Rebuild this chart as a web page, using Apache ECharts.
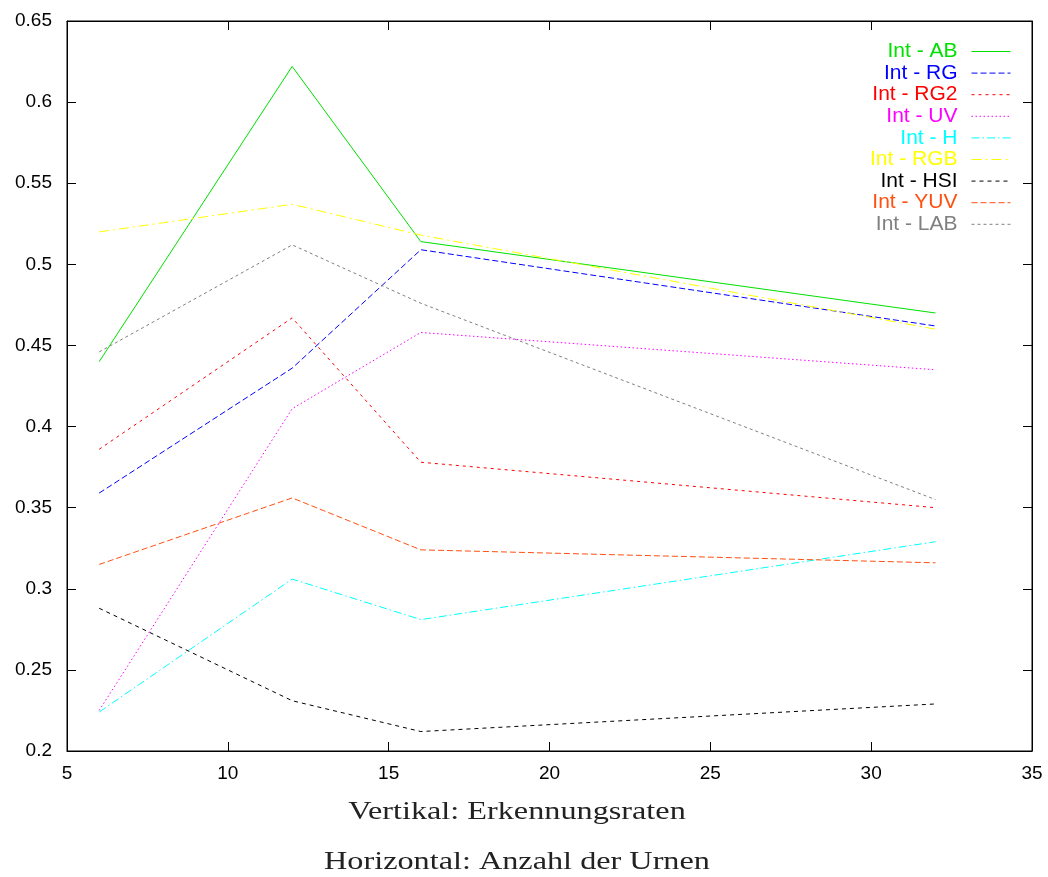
<!DOCTYPE html>
<html>
<head>
<meta charset="utf-8">
<script src="https://cdn.jsdelivr.net/npm/echarts@6/dist/echarts.min.js"></script>
<style>html,body{margin:0;padding:0;background:#fff}#c{width:1048px;height:877px}</style>
</head>
<body>
<div id="c"></div>
<script>
const xValues = [6, 12, 16, 32];
const seriesNames = ['Int - AB','Int - RG','Int - RG2','Int - UV','Int - H','Int - RGB','Int - HSI','Int - YUV','Int - LAB'];
const intAB  = [0.440, 0.622, 0.514, 0.470];
const intRG  = [0.359, 0.436, 0.509, 0.462];
const intRG2 = [0.386, 0.467, 0.378, 0.350];
const intUV  = [0.225, 0.411, 0.458, 0.435];
const intH   = [0.224, 0.306, 0.281, 0.329];
const intRGB = [0.520, 0.537, 0.518, 0.460];
const intHSI = [0.288, 0.231, 0.212, 0.229];
const intYUV = [0.315, 0.356, 0.324, 0.316];
const intLAB = [0.446, 0.512, 0.476, 0.355];
const xTitle = 'Horizontal: Anzahl der Urnen';
const yTitle = 'Vertikal: Erkennungsraten';

const allValues = [intAB, intRG, intRG2, intUV, intH, intRGB, intHSI, intYUV, intLAB];
const colors = ['#00e000','#0000ff','#ff0000','#ff00ff','#00ffff','#ffff00','#000000','#ff5010','#808080'];
const dashes = ['solid',[6,3],[3,4],[1.5,2.5],[8,3,1.5,3],[10,4,2,4],[4,4],[6,3],[3,3]];

const series = seriesNames.map((n,i)=>({
  name:n, type:'line', symbol:'none', showSymbol:false, animation:false,
  data: xValues.map((x,j)=>[x, allValues[i][j]]),
  lineStyle:{color:colors[i], width:1, type:dashes[i]},
  itemStyle:{color:colors[i]}
}));

const axisCommon = {
  type:'value', splitLine:{show:false},
  axisLine:{show:true, lineStyle:{color:'#000', width:1}},
  axisTick:{show:true, inside:true, length:9, lineStyle:{color:'#000', width:1}}
};

const titleFont = {fontFamily:'Liberation Serif', fontSize:26, fill:'#222'};

const chart = echarts.init(document.getElementById('c'), null, {renderer:'canvas'});
chart.setOption({
  animation:false,
  backgroundColor:'#fff',
  graphic:[
    {type:'text', x:517, y:812, scaleX:1.24,
     style:Object.assign({text:yTitle, align:'center', verticalAlign:'middle'}, titleFont)},
    {type:'text', x:517, y:862, scaleX:1.24,
     style:Object.assign({text:xTitle, align:'center', verticalAlign:'middle'}, titleFont)}
  ],
  grid:{left:67, right:16, top:21, bottom:126, show:true, borderColor:'#000', borderWidth:1, backgroundColor:'transparent'},
  legend:{
    orient:'vertical', right:37, top:41, align:'right', padding:0,
    itemWidth:39, itemHeight:14, itemGap:0.6,
    itemStyle:{color:'transparent', borderColor:'transparent', borderWidth:0, opacity:0},
    lineStyle:{width:1},
    data: seriesNames.map((n,i)=>({name:n, textStyle:{color:colors[i]}})),
    textStyle:{fontFamily:'Liberation Sans', fontSize:21, lineHeight:20, padding:[0,9,0,0]}
  },
  xAxis:[
    Object.assign({}, axisCommon, {min:5, max:35, interval:5, position:'bottom',
      axisLabel:{fontFamily:'Liberation Sans', fontSize:19, color:'#000', margin:13}}),
    Object.assign({}, axisCommon, {min:5, max:35, interval:5, position:'top',
      axisLabel:{show:false}})
  ],
  yAxis:[
    Object.assign({}, axisCommon, {min:0.2, max:0.65, interval:0.05, position:'left',
      axisLabel:{fontFamily:'Liberation Sans', fontSize:19, color:'#000', margin:15,
        formatter:v=>String(parseFloat(v.toFixed(2)))}}),
    Object.assign({}, axisCommon, {min:0.2, max:0.65, interval:0.05, position:'right',
      axisLabel:{show:false}})
  ],
  series: series
});
</script>
</body>
</html>
